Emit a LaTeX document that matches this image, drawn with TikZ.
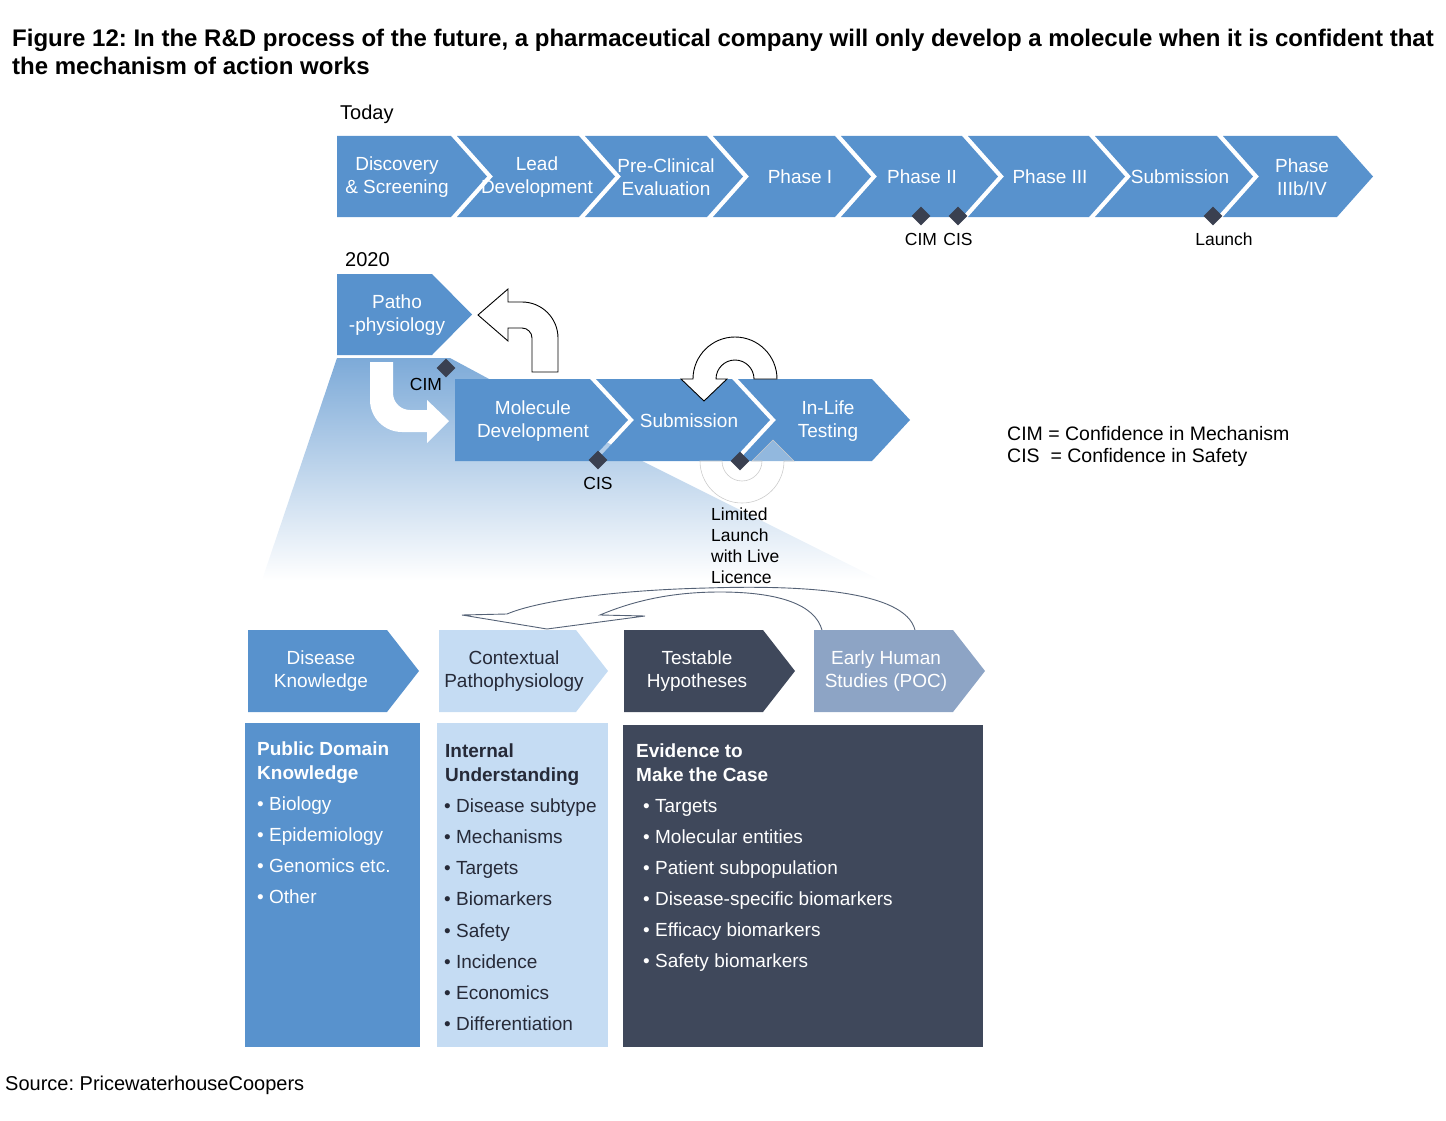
\documentclass[tikz,border=0pt]{standalone}
\usepackage{fontspec}
\setmainfont{Liberation Sans}
\usetikzlibrary{shapes.geometric,positioning}
\definecolor{rdblue}{RGB}{88,146,205}
\definecolor{rdlight}{RGB}{197,220,243}
\definecolor{rddark}{RGB}{63,72,91}
\definecolor{rdgrey}{RGB}{141,164,197}
\definecolor{rdmark}{RGB}{58,64,80}
\definecolor{rdink}{RGB}{38,42,56}
\frenchspacing
\begin{document}
\begin{tikzpicture}[x=1pt,y=-1pt]
\tikzstyle{chevtext} = [text=white, align=center, inner sep=0, font=\fontsize{19}{23}\selectfont]
\tikzstyle{milestone} = [diamond, fill=rdmark, minimum width=19, minimum height=19, inner sep=0]
\tikzstyle{marktext} = [inner sep=0, font=\fontsize{17.5}{21}\selectfont]
\tikzstyle{listtext} = [anchor=base west, inner sep=0, font=\fontsize{19}{23}\selectfont]
\tikzstyle{hollow} = [draw=black, line width=0.9pt, fill=white]

\useasboundingbox (0,0) rectangle (1446,1121);

\node (title1) [anchor=base west, inner sep=0, font=\bfseries\fontsize{24}{28}\selectfont] at (12,47) {Figure 12: In the R\&D process of the future, a pharmaceutical company will only develop a molecule when it is confident that};
\node (title2) [anchor=base west, inner sep=0, font=\bfseries\fontsize{24}{28}\selectfont] at (12,75) {the mechanism of action works};

\node (today) [anchor=base west, inner sep=0, font=\fontsize{20}{24}\selectfont] at (340,120) {Today};
\foreach \nm/\lft/\tip/\ntch/\cx/\txt in {
  disc/337/487/0/397/{Discovery\\\& Screening},
  lead/457/615/36/537/{Lead\\Development},
  precl/585/743/36/666/{Pre-Clinical\\Evaluation},
  phone/713/871/36/800/{Phase I},
  phtwo/841/998/36/922/{Phase II},
  phthree/968/1125/36/1050/{Phase III},
  subm/1095/1253/36/1180/{Submission},
  phfour/1223/1373/36/1302/{Phase\\IIIb/IV}}
{
  \fill[rdblue] (\lft,136) -- ({\tip-36},136) -- (\tip,176.5) -- ({\tip-36},217) -- (\lft,217) -- ({\lft+\ntch},176.5) -- cycle;
  \node (\nm) [chevtext] at (\cx,177) {\txt};
}
\node (cim) [milestone] at (921,216) {};
\node (cis) [milestone] at (958,216) {};
\node (launch) [milestone] at (1213,216) {};
\node (cimtxt) [marktext, below=7pt of cim] {CIM};
\node (cistxt) [marktext, below=7pt of cis] {CIS};
\node (launchtxt) [marktext, below=7pt of launch, xshift=11pt] {Launch};

\node (year) [anchor=base west, inner sep=0, font=\fontsize{20}{24}\selectfont] at (345,266) {2020};
\shade[top color=rdblue!78!white, middle color=rdblue!9!white, bottom color=white] (337,358) -- (450,358) -- (640,460) -- (760,520) -- (880,580) -- (262,580) -- cycle;
\fill[rdblue] (337,274) -- (432,274) -- (472,314.5) -- (432,355) -- (337,355) -- cycle;
\node (patho) [chevtext] at (397,315) {Patho\\-physiology};
\foreach \nm/\lft/\tip/\ntch/\cx/\txt in {
  moldev/455/628/0/533/{Molecule\\Development},
  submn/596/770/38/689/{Submission},
  inlife/738/910/38/828/{In-Life\\Testing}}
{
  \fill[rdblue] (\lft,379) -- ({\tip-38},379) -- (\tip,420) -- ({\tip-38},461) -- (\lft,461) -- ({\lft+\ntch},420) -- cycle;
  \node (\nm) [chevtext] at (\cx,421) {\txt};
}
\fill[white] (393,362) -- (370,362) -- (370,400) .. controls (370,417.7) and (384.3,432) .. (402,432) -- (427,432) -- (427,443) -- (449,421) -- (427,400) -- (427,410) -- (410,410) .. controls (400.6,410) and (393,402.4) .. (393,393) -- cycle;
\filldraw[hollow] (532,372) -- (532,338) .. controls (532,332.5) and (527.5,328) .. (522,328) -- (508,328) -- (508,341) -- (478,315) -- (508,289) -- (508,302) -- (522,302) .. controls (541.9,302) and (558,318.1) .. (558,338) -- (558,372) -- cycle;
\filldraw[hollow] (777,379) .. controls (777,355.8) and (758.2,337) .. (735,337) .. controls (711.8,337) and (693,355.8) .. (693,379) -- (681,379) -- (704,401) -- (727,379) -- (716,379) .. controls (716,368.5) and (724.5,360) .. (735,360) .. controls (745.5,360) and (754,368.5) .. (754,379) -- cycle;
\filldraw[fill=white, fill opacity=0.35, draw=gray!40, line width=0.6pt] (700,461) .. controls (700,484.2) and (718.8,503) .. (742,503) .. controls (765.2,503) and (784,484.2) .. (784,461) -- (794,461) -- (773,440) -- (752,461) -- (762,461) .. controls (762,472) and (753,481) .. (742,481) .. controls (731,481) and (722,472) .. (722,461) -- cycle;
\node (cimtwo) [milestone] at (446,368) {};
\node (cistwo) [milestone] at (598,460) {};
\node (livetwo) [milestone] at (740,461) {};
\node (cimtwotxt) [marktext, anchor=base] at (426,390) {CIM};
\node (cistwotxt) [marktext, below=7pt of cistwo] {CIS};
\foreach \w [count=\i] in {Limited, Launch, with Live, Licence}
  \node (live\i) [marktext, anchor=base west] at (711,{499+21*\i}) {\w};

\node (legend1) [anchor=base west, inner sep=0, font=\fontsize{19.5}{23}\selectfont] at (1007,440) {CIM = Confidence in Mechanism};
\node (legend2) [anchor=base west, inner sep=0, font=\fontsize{19.5}{23}\selectfont] at (1007,462) {CIS\ \ = Confidence in Safety};

\filldraw[draw=rdgrey!60!black, line width=0.9pt, fill=white] (915,630) .. controls (905,590) and (800,585) .. (707,588) .. controls (620,590) and (540,600) .. (507,614) -- (462,615) -- (547,629) -- (645,616) -- (600,615) .. controls (640,598) and (680,592) .. (720,592) .. controls (780,592) and (815,605) .. (822,630);
\foreach \nm/\lft/\tip/\col/\tcol/\cx/\txt in {
  disk/248/419/rdblue/white/321/{Disease\\Knowledge},
  ctxp/439/608/rdlight/rdink/514/{Contextual\\Pathophysiology},
  testh/624/795/rddark/white/697/{Testable\\Hypotheses},
  early/814/985/rdgrey/white/886/{Early Human\\Studies (POC)}}
{
  \fill[\col] (\lft,630) -- ({\tip-32},630) -- (\tip,671) -- ({\tip-32},712) -- (\lft,712) -- cycle;
  \node (\nm) [chevtext, text=\tcol] at (\cx,671) {\txt};
}

\fill[rdblue] (245,723) rectangle (420,1047);
\fill[rdlight] (437,723) rectangle (608,1047);
\fill[rddark] (623,725) rectangle (983,1047);
\node (pubhead1) [listtext, text=white, font=\bfseries\fontsize{19}{23}\selectfont] at (257,755) {Public Domain};
\node (pubhead2) [listtext, text=white, font=\bfseries\fontsize{19}{23}\selectfont] at (257,779) {Knowledge};
\foreach \w [count=\i] in {Biology, Epidemiology, Genomics etc., Other}
  \node (pub\i) [listtext, text=white] at (257,{779+31*\i}) {• \w};
\node (inthead1) [listtext, text=rdink, font=\bfseries\fontsize{19}{23}\selectfont] at (445,757) {Internal};
\node (inthead2) [listtext, text=rdink, font=\bfseries\fontsize{19}{23}\selectfont] at (445,781) {Understanding};
\foreach \w [count=\i] in {Disease subtype, Mechanisms, Targets, Biomarkers, Safety, Incidence, Economics, Differentiation}
  \node (int\i) [listtext, text=rdink] at (444,{781+31.2*\i}) {• \w};
\node (evhead1) [listtext, text=white, font=\bfseries\fontsize{19}{23}\selectfont] at (636,757) {Evidence to};
\node (evhead2) [listtext, text=white, font=\bfseries\fontsize{19}{23}\selectfont] at (636,781) {Make the Case};
\foreach \w [count=\i] in {Targets, Molecular entities, Patient subpopulation, Disease-specific biomarkers, Efficacy biomarkers, Safety biomarkers}
  \node (ev\i) [listtext, text=white] at (643,{781+31*\i}) {• \w};

\node (source) [anchor=base west, inner sep=0, font=\fontsize{20}{24}\selectfont] at (5,1090) {Source: PricewaterhouseCoopers};
\end{tikzpicture}
\end{document}
